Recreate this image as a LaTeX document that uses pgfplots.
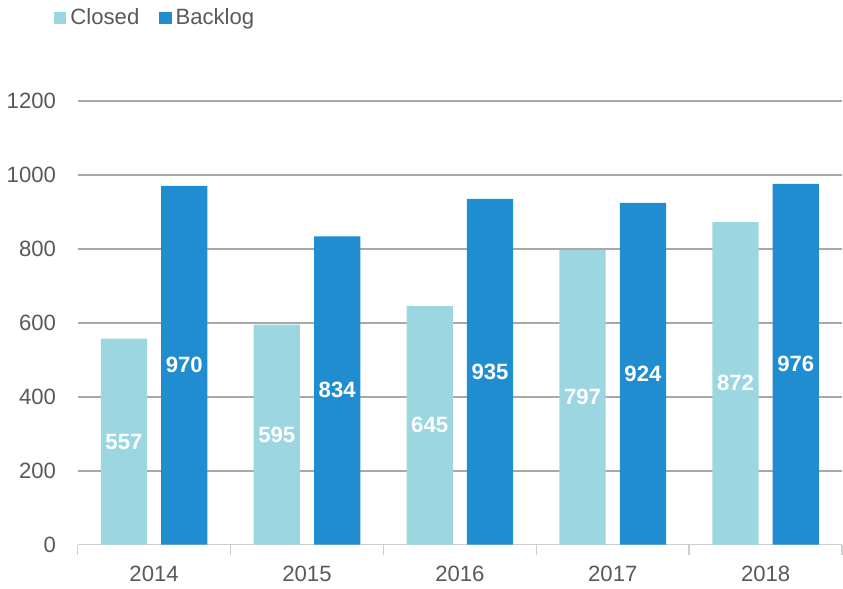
\documentclass[border=0pt]{standalone}
\usepackage{pgfplots}
\pgfplotsset{compat=1.18}
\usepackage{fontspec}
\setmainfont{Liberation Sans}
\definecolor{closedC}{HTML}{9CD6E1}
\definecolor{backlogC}{HTML}{1F8DD0}
\definecolor{gridC}{HTML}{A8A8A8}
\definecolor{axisC}{HTML}{CFCFCF}
\definecolor{txtC}{HTML}{595959}
\begin{document}
\begin{tikzpicture}
\begin{axis}[
  scale only axis, width=380pt, height=220.5pt,
  ymin=0, ymax=1200, ytick={0,200,...,1200},
  xmin=-0.5, xmax=4.5,
  xtick={0,1,2,3,4}, xticklabels={2014,2015,2016,2017,2018},
  major x tick style={draw=none},
  minor xtick={-0.5,0.5,1.5,2.5,3.5,4.5},
  minor x tick style={draw=axisC, line width=0.8pt},
  minor tick length=5pt,
  tick align=outside,
  axis x line*=bottom, axis y line*=left,
  x axis line style={draw=axisC, line width=0.8pt, -},
  y axis line style={draw=none},
  ymajorgrids, grid style={draw=gridC, line width=0.9pt},
  ytick style={draw=none},
  ybar, bar width=23pt,
  tick label style={font=\fontsize{11}{13}\selectfont, text=txtC},
  yticklabel style={xshift=-3pt, /pgf/number format/set thousands separator={}},
  xticklabel style={yshift=-3pt},
  /pgf/number format/assume math mode=true,
  visualization depends on=y \as \rawy,
  nodes near coords,
  every node near coord/.append style={font=\fontsize{11}{13}\selectfont\bfseries, text=white,
    anchor=center, shift={(axis direction cs:0,-\rawy/2)}},
  legend columns=2,
  legend style={draw=none, fill=none, at={(rel axis cs:-0.031,1.188)}, anchor=west,
    font=\fontsize{11}{13}\selectfont, text=txtC, inner xsep=0pt,
    /tikz/every even column/.append style={column sep=8pt}},
  legend image code/.code={\fill[#1] (0pt,-3pt) rectangle (6pt,3pt);},
]
\addplot[fill=closedC, draw=none, bar shift=-15pt]
  coordinates {(0,557) (1,595) (2,645) (3,797) (4,872)};
\addplot[fill=backlogC, draw=none, bar shift=15pt]
  coordinates {(0,970) (1,834) (2,935) (3,924) (4,976)};
\legend{Closed,Backlog}
\end{axis}
\end{tikzpicture}
\end{document}
